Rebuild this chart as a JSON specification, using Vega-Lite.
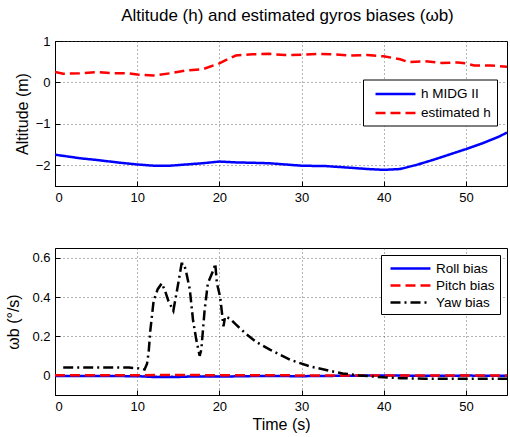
{
  "$schema": "https://vega.github.io/schema/vega-lite/v6.json",
  "padding": {"left": 5, "top": 6, "right": 0, "bottom": 0},
  "title": {"text": "Altitude (h) and estimated gyros biases (ωb)", "fontSize": 17, "font": "Liberation Sans", "fontWeight": "normal", "color": "black", "anchor": "middle", "offset": 10, "dx": 31},
  "spacing": 42,
  "resolve": {"scale": {"color": "independent", "strokeDash": "independent"}, "legend": {"color": "independent", "strokeDash": "independent"}},
  "config": {
    "font": "Liberation Sans",
    "view": {"stroke": "black", "strokeWidth": 1},
    "axis": {
      "labelFont": "Liberation Sans", "labelFontSize": 13, "labelColor": "black",
      "titleFont": "Liberation Sans", "titleFontSize": 16, "titleFontWeight": "normal", "titleColor": "black",
      "domainColor": "black", "tickColor": "black", "tickSize": -5, "labelPadding": 10,
      "grid": true, "gridColor": "#444", "gridDash": [1, 3], "gridOpacity": 0.8
    },
    "legend": {
      "labelFont": "Liberation Sans", "labelFontSize": 13.5, "labelColor": "black",
      "strokeColor": "black", "fillColor": "white",
      "symbolType": "M-1,0H4.71", "symbolSize": 196, "symbolStrokeWidth": 2.5, "labelOffset": 30
    }
  },
  "vconcat": [
    {
      "width": 452, "height": 145,
      "data": {"values": [
        {"t": 0, "v": -1.745, "s": "h MIDG II"}, {"t": 2, "v": -1.8, "s": "h MIDG II"}, {"t": 3, "v": -1.83, "s": "h MIDG II"}, {"t": 5, "v": -1.87, "s": "h MIDG II"}, {"t": 8, "v": -1.94, "s": "h MIDG II"}, {"t": 10, "v": -1.98, "s": "h MIDG II"}, {"t": 12, "v": -2.01, "s": "h MIDG II"}, {"t": 14, "v": -2.01, "s": "h MIDG II"}, {"t": 16, "v": -1.98, "s": "h MIDG II"}, {"t": 18, "v": -1.95, "s": "h MIDG II"}, {"t": 20, "v": -1.91, "s": "h MIDG II"}, {"t": 22, "v": -1.93, "s": "h MIDG II"}, {"t": 24, "v": -1.94, "s": "h MIDG II"}, {"t": 26, "v": -1.95, "s": "h MIDG II"}, {"t": 28, "v": -1.98, "s": "h MIDG II"}, {"t": 30, "v": -2.01, "s": "h MIDG II"}, {"t": 33, "v": -2.02, "s": "h MIDG II"}, {"t": 36, "v": -2.06, "s": "h MIDG II"}, {"t": 38, "v": -2.09, "s": "h MIDG II"}, {"t": 40, "v": -2.11, "s": "h MIDG II"}, {"t": 42, "v": -2.09, "s": "h MIDG II"}, {"t": 44, "v": -1.99, "s": "h MIDG II"}, {"t": 46, "v": -1.87, "s": "h MIDG II"}, {"t": 48, "v": -1.74, "s": "h MIDG II"}, {"t": 50, "v": -1.61, "s": "h MIDG II"}, {"t": 52, "v": -1.47, "s": "h MIDG II"}, {"t": 54, "v": -1.31, "s": "h MIDG II"}, {"t": 55, "v": -1.21, "s": "h MIDG II"},
        {"t": 0, "v": 0.25, "s": "estimated h"}, {"t": 1, "v": 0.21, "s": "estimated h"}, {"t": 3, "v": 0.22, "s": "estimated h"}, {"t": 5, "v": 0.25, "s": "estimated h"}, {"t": 7, "v": 0.22, "s": "estimated h"}, {"t": 9, "v": 0.22, "s": "estimated h"}, {"t": 10, "v": 0.19, "s": "estimated h"}, {"t": 12, "v": 0.17, "s": "estimated h"}, {"t": 14, "v": 0.22, "s": "estimated h"}, {"t": 16, "v": 0.29, "s": "estimated h"}, {"t": 18, "v": 0.32, "s": "estimated h"}, {"t": 20, "v": 0.46, "s": "estimated h"}, {"t": 21, "v": 0.56, "s": "estimated h"}, {"t": 22, "v": 0.65, "s": "estimated h"}, {"t": 24, "v": 0.68, "s": "estimated h"}, {"t": 26, "v": 0.69, "s": "estimated h"}, {"t": 28, "v": 0.66, "s": "estimated h"}, {"t": 30, "v": 0.67, "s": "estimated h"}, {"t": 32, "v": 0.69, "s": "estimated h"}, {"t": 34, "v": 0.68, "s": "estimated h"}, {"t": 36, "v": 0.65, "s": "estimated h"}, {"t": 38, "v": 0.66, "s": "estimated h"}, {"t": 40, "v": 0.63, "s": "estimated h"}, {"t": 42, "v": 0.56, "s": "estimated h"}, {"t": 43, "v": 0.49, "s": "estimated h"}, {"t": 45, "v": 0.51, "s": "estimated h"}, {"t": 47, "v": 0.47, "s": "estimated h"}, {"t": 49, "v": 0.48, "s": "estimated h"}, {"t": 50, "v": 0.46, "s": "estimated h"}, {"t": 51, "v": 0.41, "s": "estimated h"}, {"t": 53, "v": 0.41, "s": "estimated h"}, {"t": 55, "v": 0.38, "s": "estimated h"}
      ]},
      "mark": {"type": "line", "strokeWidth": 2.5, "clip": true},
      "encoding": {
        "x": {"field": "t", "type": "quantitative", "scale": {"domain": [0, 55], "nice": false, "zero": false}, "axis": {"values": [0, 10, 20, 30, 40, 50], "title": null}},
        "y": {"field": "v", "type": "quantitative", "scale": {"domain": [-2.5, 1], "nice": false, "zero": false}, "axis": {"values": [-2, -1, 0, 1], "title": "Altitude (m)", "titlePadding": 5}},
        "color": {"field": "s", "type": "nominal", "sort": ["h MIDG II", "estimated h"], "scale": {"domain": ["h MIDG II", "estimated h"], "range": ["#0000ff", "#ff0000"]}, "legend": {"title": null, "orient": "none", "legendX": 308, "legendY": 38.5, "padding": 6, "rowPadding": 4, "symbolOffset": 5}},
        "strokeDash": {"field": "s", "type": "nominal", "sort": ["h MIDG II", "estimated h"], "scale": {"domain": ["h MIDG II", "estimated h"], "range": [[1, 0], [10, 5]]}, "legend": {"title": null, "orient": "none", "legendX": 308, "legendY": 38.5, "padding": 6, "rowPadding": 4, "symbolOffset": 5}}
      }
    },
    {
      "width": 452, "height": 147,
      "data": {"values": [
        {"t": 0, "v": -0.003, "s": "Roll bias"}, {"t": 5, "v": -0.003, "s": "Roll bias"}, {"t": 10, "v": -0.004, "s": "Roll bias"}, {"t": 12, "v": -0.008, "s": "Roll bias"}, {"t": 15, "v": -0.008, "s": "Roll bias"}, {"t": 17, "v": -0.005, "s": "Roll bias"}, {"t": 20, "v": -0.006, "s": "Roll bias"}, {"t": 25, "v": -0.003, "s": "Roll bias"}, {"t": 30, "v": -0.004, "s": "Roll bias"}, {"t": 35, "v": -0.002, "s": "Roll bias"}, {"t": 40, "v": 0.0, "s": "Roll bias"}, {"t": 45, "v": -0.002, "s": "Roll bias"}, {"t": 50, "v": -0.001, "s": "Roll bias"}, {"t": 55, "v": -0.002, "s": "Roll bias"},
        {"t": 0, "v": 0.001, "s": "Pitch bias"}, {"t": 10, "v": 0.001, "s": "Pitch bias"}, {"t": 15, "v": 0.002, "s": "Pitch bias"}, {"t": 20, "v": 0.001, "s": "Pitch bias"}, {"t": 30, "v": 0.0, "s": "Pitch bias"}, {"t": 40, "v": 0.0, "s": "Pitch bias"}, {"t": 55, "v": 0.0, "s": "Pitch bias"},
        {"t": 1, "v": 0.04, "s": "Yaw bias"}, {"t": 5, "v": 0.04, "s": "Yaw bias"}, {"t": 9, "v": 0.04, "s": "Yaw bias"}, {"t": 10.5, "v": 0.035, "s": "Yaw bias"}, {"t": 10.9, "v": 0.03, "s": "Yaw bias"}, {"t": 11.2, "v": 0.06, "s": "Yaw bias"}, {"t": 11.4, "v": 0.12, "s": "Yaw bias"}, {"t": 11.6, "v": 0.23, "s": "Yaw bias"}, {"t": 12.0, "v": 0.38, "s": "Yaw bias"}, {"t": 12.5, "v": 0.44, "s": "Yaw bias"}, {"t": 13.0, "v": 0.47, "s": "Yaw bias"}, {"t": 13.4, "v": 0.43, "s": "Yaw bias"}, {"t": 13.8, "v": 0.38, "s": "Yaw bias"}, {"t": 14.4, "v": 0.33, "s": "Yaw bias"}, {"t": 15.0, "v": 0.47, "s": "Yaw bias"}, {"t": 15.4, "v": 0.57, "s": "Yaw bias"}, {"t": 15.7, "v": 0.57, "s": "Yaw bias"}, {"t": 16.0, "v": 0.52, "s": "Yaw bias"}, {"t": 16.4, "v": 0.44, "s": "Yaw bias"}, {"t": 16.8, "v": 0.28, "s": "Yaw bias"}, {"t": 17.2, "v": 0.18, "s": "Yaw bias"}, {"t": 17.6, "v": 0.1, "s": "Yaw bias"}, {"t": 17.8, "v": 0.13, "s": "Yaw bias"}, {"t": 18.2, "v": 0.33, "s": "Yaw bias"}, {"t": 18.6, "v": 0.47, "s": "Yaw bias"}, {"t": 19.0, "v": 0.51, "s": "Yaw bias"}, {"t": 19.3, "v": 0.54, "s": "Yaw bias"}, {"t": 19.5, "v": 0.57, "s": "Yaw bias"}, {"t": 19.7, "v": 0.47, "s": "Yaw bias"}, {"t": 20.1, "v": 0.4, "s": "Yaw bias"}, {"t": 20.5, "v": 0.25, "s": "Yaw bias"}, {"t": 20.7, "v": 0.3, "s": "Yaw bias"}, {"t": 21.3, "v": 0.29, "s": "Yaw bias"}, {"t": 22, "v": 0.26, "s": "Yaw bias"}, {"t": 23.3, "v": 0.21, "s": "Yaw bias"}, {"t": 24.5, "v": 0.17, "s": "Yaw bias"}, {"t": 26.2, "v": 0.13, "s": "Yaw bias"}, {"t": 28.6, "v": 0.08, "s": "Yaw bias"}, {"t": 31.0, "v": 0.046, "s": "Yaw bias"}, {"t": 33.8, "v": 0.02, "s": "Yaw bias"}, {"t": 35, "v": 0.01, "s": "Yaw bias"}, {"t": 37, "v": 0.0, "s": "Yaw bias"}, {"t": 40, "v": -0.01, "s": "Yaw bias"}, {"t": 42, "v": -0.014, "s": "Yaw bias"}, {"t": 45, "v": -0.017, "s": "Yaw bias"}, {"t": 50, "v": -0.017, "s": "Yaw bias"}, {"t": 55, "v": -0.017, "s": "Yaw bias"}
      ]},
      "mark": {"type": "line", "strokeWidth": 2.5, "clip": true},
      "encoding": {
        "x": {"field": "t", "type": "quantitative", "scale": {"domain": [0, 55], "nice": false, "zero": false}, "axis": {"values": [0, 10, 20, 30, 40, 50], "title": "Time (s)", "titlePadding": 3}},
        "y": {"field": "v", "type": "quantitative", "scale": {"domain": [-0.1, 0.65], "nice": false, "zero": false}, "axis": {"values": [0, 0.2, 0.4, 0.6], "format": "~g", "title": "ωb (°/s)", "titlePadding": 10}},
        "color": {"field": "s", "type": "nominal", "sort": ["Roll bias", "Pitch bias", "Yaw bias"], "scale": {"domain": ["Roll bias", "Pitch bias", "Yaw bias"], "range": ["#0000ff", "#ff0000", "#000000"]}, "legend": {"title": null, "orient": "top-right", "offset": 7, "padding": 5, "rowPadding": 2, "symbolOffset": 3}},
        "strokeDash": {"field": "s", "type": "nominal", "sort": ["Roll bias", "Pitch bias", "Yaw bias"], "scale": {"domain": ["Roll bias", "Pitch bias", "Yaw bias"], "range": [[1, 0], [10, 5], [10, 4, 2, 4]]}, "legend": {"title": null, "orient": "top-right", "offset": 7, "padding": 5, "rowPadding": 2, "symbolOffset": 3}},
        "order": {"field": "s", "sort": "descending"}
      }
    }
  ]
}
